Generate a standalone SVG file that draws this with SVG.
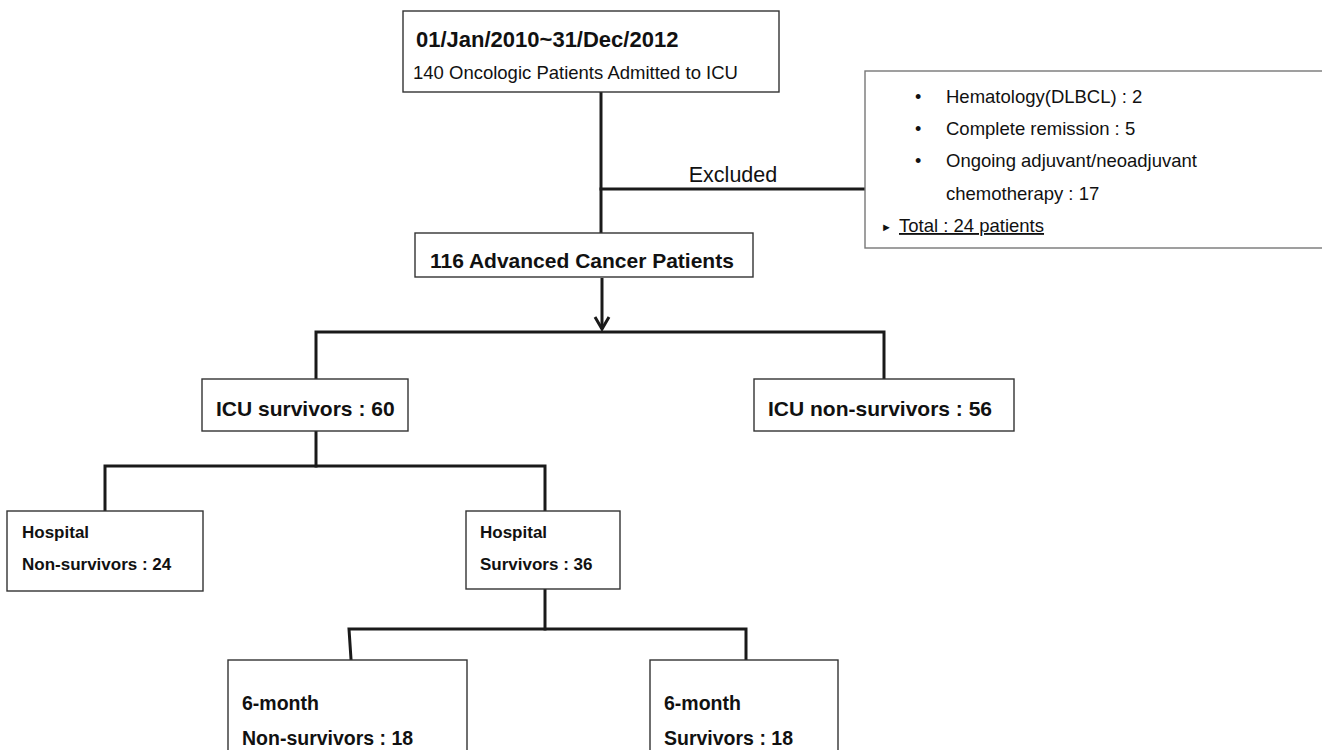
<svg xmlns="http://www.w3.org/2000/svg" width="1322" height="750" viewBox="0 0 1322 750">
<defs>
<style>
.box{fill:#fff;stroke:#333;stroke-width:1.4}
.xbox{fill:#fff;stroke:#777;stroke-width:1.4}
.ln{fill:none;stroke:#1a1a1a;stroke-width:3;stroke-linecap:square}
.b{font-family:"Liberation Sans",Arial,sans-serif;font-weight:bold;fill:#111}
.r{font-family:"Liberation Sans",Arial,sans-serif;fill:#111}
</style>
<marker id="arr" markerWidth="20" markerHeight="20" refX="14" refY="10" orient="auto" markerUnits="userSpaceOnUse" viewBox="0 0 20 20">
<path d="M2,3 L14,10 L2,17" fill="none" stroke="#1a1a1a" stroke-width="3"/>
</marker>
</defs>
<rect width="1322" height="750" fill="#fff"/>
<g id="connectors">
<path class="ln" d="M601,93 V232"/>
<path class="ln" d="M601,189 H864"/>
<path class="ln" d="M602,278 V329" marker-end="url(#arr)" style="stroke-linecap:butt"/>
<path class="ln" d="M316,378 V332 H884 V378"/>
<path class="ln" d="M316,432 V466"/>
<path class="ln" d="M105,510 V466 H545 V510"/>
<path class="ln" d="M545,590 V629"/>
<path class="ln" d="M351,659 L349,629 H746 V659"/>
</g>
<g id="n-start">
<rect class="box" x="403" y="11" width="376" height="81"/>
<text class="b" x="416" y="47" font-size="22">01/Jan/2010~31/Dec/2012</text>
<text class="r" x="413" y="79" font-size="18.5">140 Oncologic Patients Admitted to ICU</text>
</g>
<g id="n-excluded-label">
<text class="r" x="733" y="182" font-size="21.5" text-anchor="middle">Excluded</text>
</g>
<g id="n-excluded">
<rect class="xbox" x="865" y="71" width="470" height="177"/>
<text class="r" x="915" y="103" font-size="18">•</text>
<text class="r" x="946" y="103" font-size="18.5">Hematology(DLBCL) : 2</text>
<text class="r" x="915" y="135" font-size="18">•</text>
<text class="r" x="946" y="135" font-size="18.5">Complete remission : 5</text>
<text class="r" x="915" y="167" font-size="18">•</text>
<text class="r" x="946" y="167" font-size="18.5">Ongoing adjuvant/neoadjuvant</text>
<text class="r" x="946" y="200" font-size="18.5">chemotherapy : 17</text>
<text class="r" x="881" y="231" font-size="11">►</text>
<text class="r" x="899" y="232" font-size="18.5" text-decoration="underline">Total : 24 patients</text>
</g>
<g id="n-advanced">
<rect class="box" x="415" y="233" width="338" height="44"/>
<text class="b" x="430" y="268" font-size="21">116 Advanced Cancer Patients</text>
</g>
<g id="n-icu-surv">
<rect class="box" x="202" y="379" width="206" height="52"/>
<text class="b" x="216" y="416" font-size="21">ICU survivors : 60</text>
</g>
<g id="n-icu-nonsurv">
<rect class="box" x="754" y="379" width="260" height="52"/>
<text class="b" x="768" y="416" font-size="21">ICU non-survivors : 56</text>
</g>
<g id="n-hosp-nonsurv">
<rect class="box" x="7" y="511" width="196" height="80"/>
<text class="b" x="22" y="538" font-size="17">Hospital</text>
<text class="b" x="22" y="570" font-size="17">Non-survivors : 24</text>
</g>
<g id="n-hosp-surv">
<rect class="box" x="466" y="511" width="154" height="78"/>
<text class="b" x="480" y="538" font-size="17">Hospital</text>
<text class="b" x="480" y="570" font-size="17">Survivors : 36</text>
</g>
<g id="n-6m-nonsurv">
<rect class="box" x="228" y="660" width="239" height="100"/>
<text class="b" x="242" y="710" font-size="19.5">6-month</text>
<text class="b" x="242" y="745" font-size="19.5">Non-survivors : 18</text>
</g>
<g id="n-6m-surv">
<rect class="box" x="650" y="660" width="188" height="100"/>
<text class="b" x="664" y="710" font-size="19.5">6-month</text>
<text class="b" x="664" y="745" font-size="19.5">Survivors : 18</text>
</g>
</svg>
